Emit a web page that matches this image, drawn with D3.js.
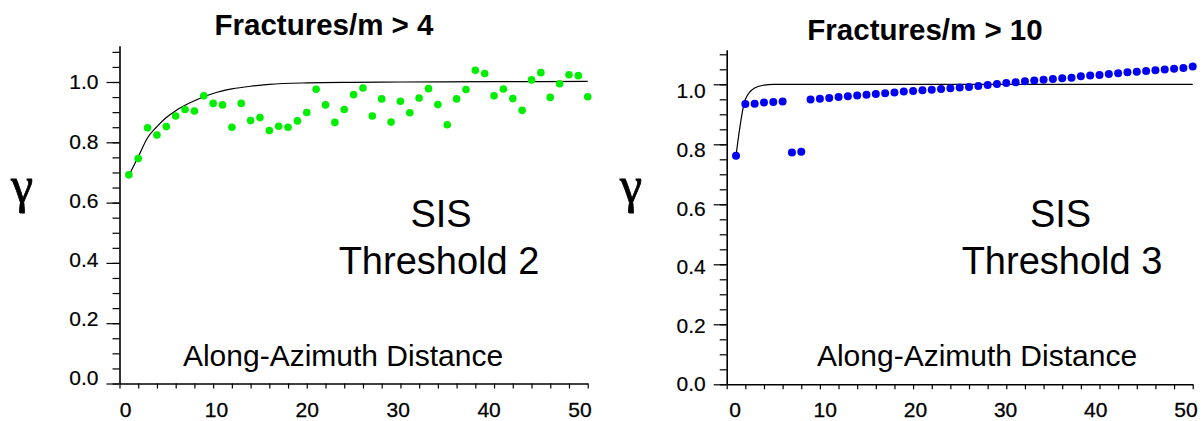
<!DOCTYPE html>
<html>
<head>
<meta charset="utf-8">
<script src="https://cdn.jsdelivr.net/npm/d3@7"></script>
<style>
  html, body { margin: 0; padding: 0; background: #fff; }
  svg { display: block; }
  text { font-family: "Liberation Sans", Arial, Helvetica, sans-serif; fill: #000; }
</style>
</head>
<body>
<svg id="chart" width="1203" height="421"></svg>
<script>
// ---------------- DATA ----------------
const lagsLeft = d3.range(1, 51);
const gammaLeft = [
  0.692, 0.746, 0.848, 0.824, 0.852, 0.887, 0.909, 0.904, 0.954, 0.929,
  0.924, 0.850, 0.929, 0.872, 0.882, 0.839, 0.853, 0.850, 0.871, 0.899,
  0.976, 0.924, 0.866, 0.909, 0.958, 0.980, 0.887, 0.944, 0.867, 0.936,
  0.898, 0.947, 0.978, 0.925, 0.858, 0.944, 0.975, 1.039, 1.028, 0.954,
  0.977, 0.945, 0.906, 1.007, 1.031, 0.949, 0.994, 1.024, 1.021, 0.951
];
const modelLagsLeft = [1, 2, 3, 4, 5, 6, 7, 8, 9, 10, 12, 14, 16, 20, 25, 30, 40, 50];
const modelLeft = [0.69, 0.752, 0.815, 0.852, 0.882, 0.905, 0.923, 0.938, 0.951, 0.962, 0.977, 0.986, 0.992, 0.997, 0.999, 1.0, 1.001, 1.002];

const lagsRight = d3.range(1, 51);
const gammaRight = [
  0.762, 0.934, 0.935, 0.939, 0.941, 0.943, 0.773, 0.775, 0.949, 0.952,
  0.954, 0.958, 0.960, 0.963, 0.965, 0.968, 0.970, 0.973, 0.976, 0.978,
  0.980, 0.982, 0.984, 0.987, 0.989, 0.991, 0.994, 0.998, 1.001, 1.004,
  1.007, 1.010, 1.013, 1.015, 1.018, 1.020, 1.022, 1.027, 1.029, 1.031,
  1.034, 1.037, 1.040, 1.042, 1.044, 1.047, 1.049, 1.052, 1.054, 1.059
];
const modelLagsRight = [1, 2, 3, 4, 5, 6, 50];
const modelRight = [0.762, 0.95, 0.988, 0.997, 1.0, 1.0, 1.0];

const xTickLabels = [0, 10, 20, 30, 40, 50];
const yTickLabels = [0.0, 0.2, 0.4, 0.6, 0.8, 1.0];
const titles = ["Fractures/m > 4", "Fractures/m > 10"];
const methodLabel = "SIS";
const thresholdLabels = ["Threshold 2", "Threshold 3"];
const xAxisTitle = "Along-Azimuth Distance";
const yAxisTitle = "\u03b3";

// ---------------- LAYOUT ----------------
const panels = [
  {
    lags: lagsLeft, gamma: gammaLeft, mLags: modelLagsLeft, model: modelLeft,
    color: "#00ee00", r: 3.8,
    xRange: [119.5, 587.7], yRange: [383.5, 82], yTop: 1.12,
    xLabRange: [125.5, 580], yLabRange: [378, 82],
    title: titles[0], titleX: 324, titleY: 35,
    thr: thresholdLabels[0], sisX: 441, thrX: 439,
    xtX: 343, gammaX: 22
  },
  {
    lags: lagsRight, gamma: gammaRight, mLags: modelLagsRight, model: modelRight,
    color: "#0000f5", r: 4,
    xRange: [726.7, 1192.7], yRange: [384.3, 84.3], yTop: 1.115,
    xLabRange: [735, 1186], yLabRange: [384, 91],
    title: titles[1], titleX: 925, titleY: 40,
    thr: thresholdLabels[1], sisX: 1060.5, thrX: 1062,
    xtX: 977, gammaX: 631
  }
];

const svg = d3.select("#chart");

panels.forEach(p => {
  const g = svg.append("g");
  const x = d3.scaleLinear().domain([0, 50]).range(p.xRange);
  const y = d3.scaleLinear().domain([0, 1]).range(p.yRange);
  const xl = d3.scaleLinear().domain([0, 50]).range(p.xLabRange);
  const yl = d3.scaleLinear().domain([0, 1]).range(p.yLabRange);

  // x axis (ticks every 2)
  const xAxis = d3.axisBottom(x)
    .tickValues(d3.range(0, 51, 2))
    .tickSize(5).tickSizeOuter(0).tickFormat("");
  const gx = g.append("g").attr("transform", `translate(0,${y(0)})`).call(xAxis);
  gx.select(".domain").attr("stroke", "#000").attr("stroke-width", 1.6);
  gx.selectAll(".tick line").attr("stroke", "#000").attr("stroke-width", 1.2);

  g.selectAll(".xlab").data(xTickLabels).enter().append("text")
    .attr("class", "xlab")
    .attr("x", d => xl(d)).attr("y", y(0) + 33)
    .attr("text-anchor", "middle")
    .style("font-size", "21px")
    .style("stroke", "#000").style("stroke-width", 0.3)
    .text(d => d3.format("d")(d));

  // y axis: minor every 0.05, major every 0.2
  const yScaleTop = d3.scaleLinear().domain([0, p.yTop]).range([y(0), y(p.yTop)]);
  const minorVals = d3.range(0, p.yTop + 1e-9, 0.05).map(v => +v.toFixed(2));
  const yMinor = d3.axisLeft(yScaleTop).tickValues(minorVals).tickSize(7).tickSizeOuter(0).tickFormat("");
  const gy = g.append("g").attr("transform", `translate(${x(0)},0)`).call(yMinor);
  gy.select(".domain").attr("stroke", "#000").attr("stroke-width", 1.6);
  gy.selectAll(".tick line").attr("stroke", "#000").attr("stroke-width", 1.2);

  const yMajor = d3.axisLeft(yScaleTop).tickValues(yTickLabels).tickSize(13).tickSizeOuter(0).tickFormat("");
  const gy2 = g.append("g").attr("transform", `translate(${x(0)},0)`).call(yMajor);
  gy2.select(".domain").remove();
  gy2.selectAll(".tick line").attr("stroke", "#000").attr("stroke-width", 1.2);

  g.selectAll(".ylab").data(yTickLabels).enter().append("text")
    .attr("class", "ylab")
    .attr("x", x(0) - 21).attr("y", d => yl(d))
    .attr("dy", "0.35em")
    .attr("text-anchor", "end")
    .style("font-size", "21px")
    .style("stroke", "#000").style("stroke-width", 0.2)
    .text(d => d3.format(".1f")(d));

  // model curve
  const line = d3.line()
    .x((d, i) => x(p.mLags[i]))
    .y(d => y(d))
    .curve(d3.curveMonotoneX);
  g.append("path").datum(p.model)
    .attr("d", line)
    .attr("fill", "none").attr("stroke", "#000").attr("stroke-width", 1.2);

  // points
  g.selectAll(".pt").data(p.gamma).enter().append("circle")
    .attr("class", "pt")
    .attr("cx", (d, i) => x(p.lags[i]))
    .attr("cy", d => y(d))
    .attr("r", p.r)
    .attr("fill", p.color);

  // texts
  g.append("text").attr("x", p.titleX).attr("y", p.titleY)
    .attr("text-anchor", "middle")
    .style("font-size", "29.5px").style("font-weight", "bold")
    .text(p.title);

  g.append("text").attr("x", p.sisX).attr("y", 227)
    .attr("text-anchor", "middle").style("font-size", "38px")
    .text(methodLabel);
  g.append("text").attr("x", p.thrX).attr("y", 274)
    .attr("text-anchor", "middle").style("font-size", "38px")
    .text(p.thr);

  g.append("text").attr("x", p.xtX).attr("y", 366)
    .attr("text-anchor", "middle").style("font-size", "30px")
    .text(xAxisTitle);

  g.append("text").attr("x", p.gammaX).attr("y", 202)
    .attr("text-anchor", "middle")
    .style("font-family", "'Liberation Serif', 'DejaVu Serif', serif")
    .style("font-size", "50px")
    .style("stroke", "#000").style("stroke-width", 0.8)
    .text(yAxisTitle);
});
</script>
</body>
</html>
